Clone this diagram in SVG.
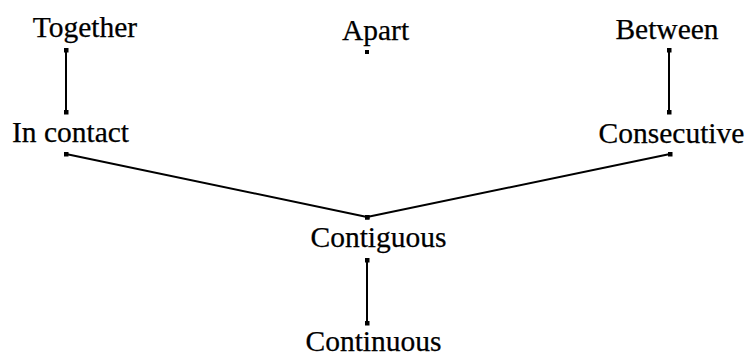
<svg xmlns="http://www.w3.org/2000/svg" width="749" height="358" viewBox="0 0 749 358">
<defs>
<marker id="dot" viewBox="0 0 4 4" refX="2" refY="2" markerWidth="2.5" markerHeight="2.5" markerUnits="strokeWidth">
<rect x="0" y="0" width="4" height="4" fill="#000"/>
</marker>
</defs>
<style>
.lbl{font-family:"Liberation Serif","Times New Roman",serif;font-size:29.5px;fill:#000;text-anchor:middle;stroke:#000;stroke-width:0.25}
.edge{stroke:#000;stroke-width:2;fill:none;marker-start:url(#dot);marker-end:url(#dot)}
</style>
<rect width="749" height="358" fill="#fff"/>
<g id="connectors">
<line class="edge" x1="66" y1="50" x2="66" y2="112"/>
<line class="edge" x1="669" y1="50" x2="669" y2="112"/>
<line class="edge" x1="66" y1="154" x2="367" y2="217"/>
<line class="edge" x1="670" y1="154" x2="367" y2="217"/>
<line class="edge" x1="367" y1="260" x2="367" y2="323"/>
<rect x="365" y="50" width="4" height="4" fill="#000"/>
</g>
<g id="together"><text class="lbl" x="85" y="37">Together</text></g>
<g id="apart"><text class="lbl" x="375.5" y="40">Apart</text></g>
<g id="between"><text class="lbl" x="667" y="39">Between</text></g>
<g id="in-contact"><text class="lbl" x="70.5" y="142">In contact</text></g>
<g id="consecutive"><text class="lbl" x="671.5" y="143">Consecutive</text></g>
<g id="contiguous"><text class="lbl" x="378.5" y="247">Contiguous</text></g>
<g id="continuous"><text class="lbl" x="373.5" y="351">Continuous</text></g>
</svg>
